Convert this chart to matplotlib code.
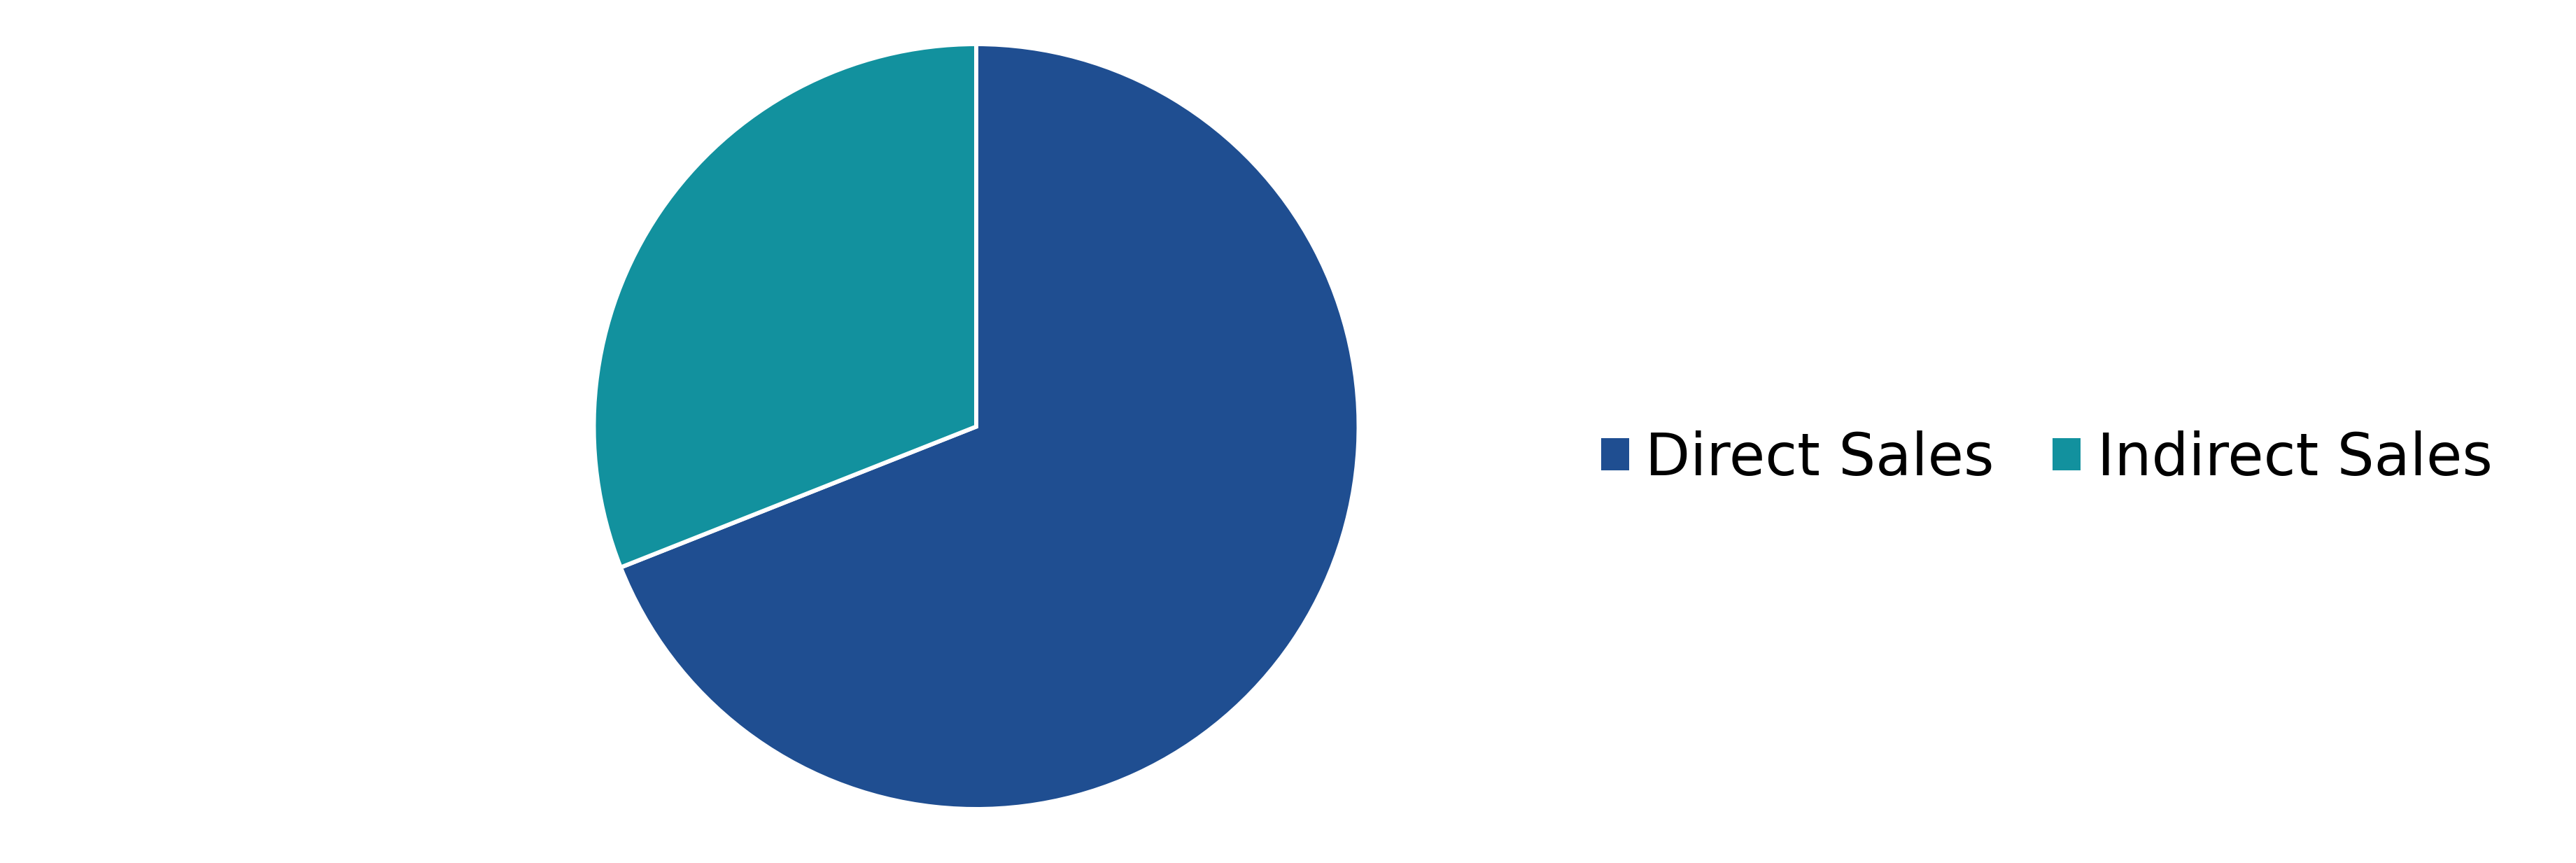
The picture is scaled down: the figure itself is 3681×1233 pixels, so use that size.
import matplotlib
matplotlib.use("Agg")
import matplotlib.pyplot as plt
from matplotlib.patches import Patch

categories = ["Direct Sales", "Indirect Sales"]
values = [69, 31]
colors = ["#1F4E91", "#12919E"]

W, H = 3681, 1233
cx, cy, r = 1395, 609.5, 546.5

fig = plt.figure(figsize=(W / 100, H / 100), dpi=100)
ax = fig.add_axes([(cx - r) / W, (H - cy - r) / H, 2 * r / W, 2 * r / H])
ax.pie(values, colors=colors, startangle=90, counterclock=False, radius=1.0,
       wedgeprops=dict(edgecolor="white", linewidth=4.3))
ax.set_xlim(-1.0, 1.0)
ax.set_ylim(-1.0, 1.0)
ax.set_aspect("equal")
ax.axis("off")

handles = [Patch(facecolor=c, edgecolor="none") for c in colors]
fig.legend(handles, categories, loc="center left",
           bbox_to_anchor=(2288 / W, (H - 655) / H),
           ncol=2, frameon=False, prop={"family": "DejaVu Sans", "size": 60},
           handlelength=0.48, handleheight=0.48, handletextpad=0.28,
           columnspacing=1.0, borderpad=0, borderaxespad=0)

fig.savefig("out.png", dpi=100, facecolor="white")
